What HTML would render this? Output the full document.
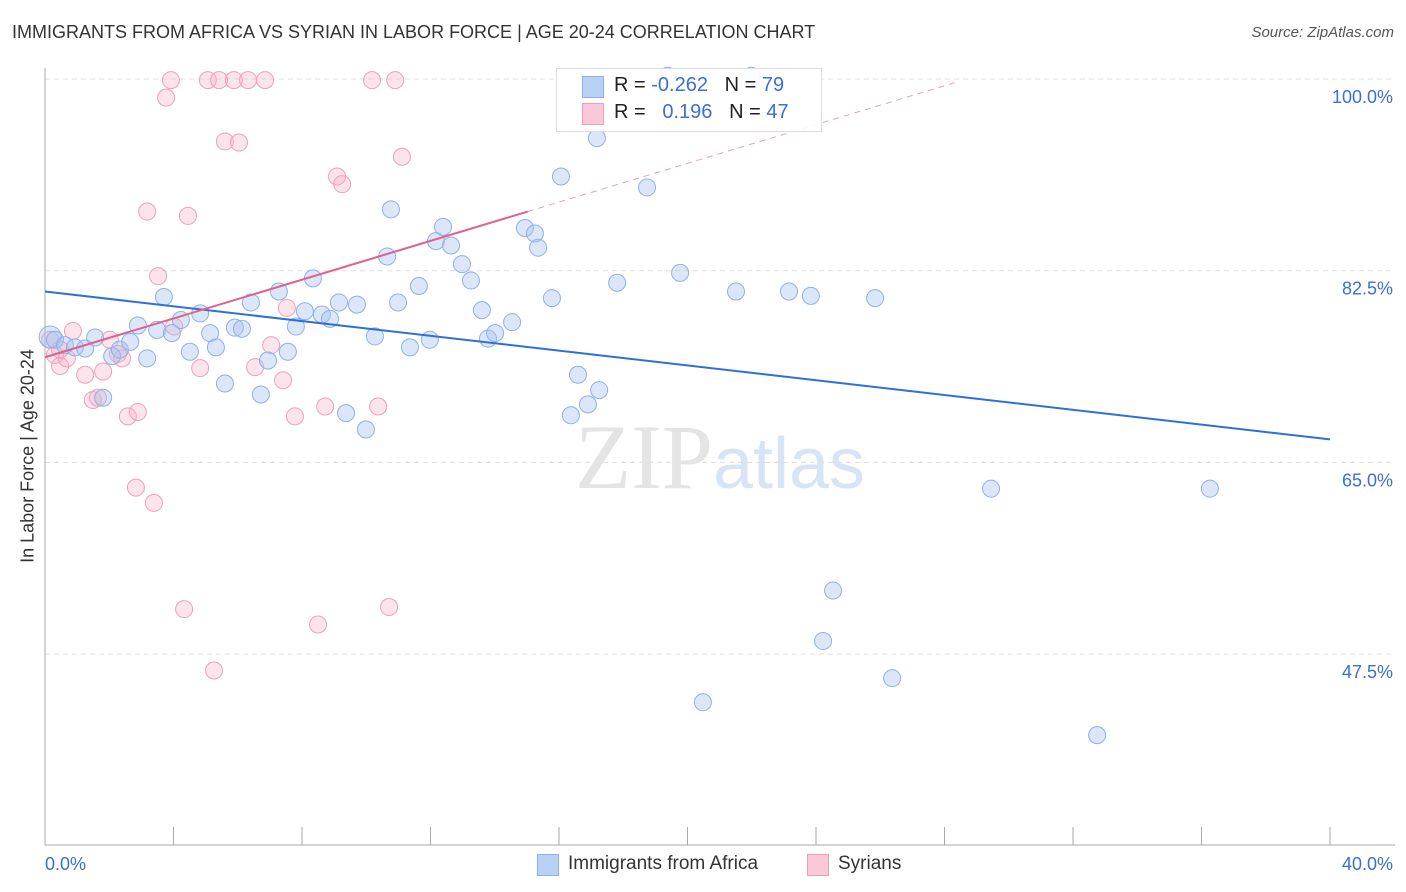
<!DOCTYPE html>
<html><head><meta charset="utf-8"><style>
body{margin:0;background:#fff;font-family:"Liberation Sans",sans-serif;}
#wrap{position:relative;width:1406px;height:892px;overflow:hidden;}
.t{position:absolute;white-space:nowrap;}
</style></head><body>
<div id="wrap">
<div class="t" style="left:12px;top:22px;font-size:18px;color:#333;">IMMIGRANTS FROM AFRICA VS SYRIAN IN LABOR FORCE | AGE 20-24 CORRELATION CHART</div>
<div class="t" style="right:12px;top:24px;font-size:15px;color:#555;font-style:italic;">Source: ZipAtlas.com</div>
<div class="t" style="left:28px;top:456px;font-size:18px;color:#333;transform:translate(-50%,-50%) rotate(-90deg);">In Labor Force | Age 20-24</div>
<svg id="svg" width="1406" height="892" style="position:absolute;left:0;top:0"></svg>
<div style="position:absolute;left:556px;top:68px;width:264px;height:62px;border:1px solid #ddd;background:rgba(255,255,255,0.9);"></div>
<div style="position:absolute;left:582px;top:76px;width:20px;height:20px;background:#b9d0f5;border:1px solid #8fb0e8;"></div>
<div style="position:absolute;left:582px;top:103px;width:20px;height:20px;background:#fbc8d8;border:1px solid #eaa0b8;"></div>
<div class="t" style="left:614px;top:74px;font-size:20px;color:#222;">R = <span style="color:#3a6fd8">-0.262</span>&nbsp;&nbsp;&nbsp;N = <span style="color:#3a6fd8">79</span></div>
<div class="t" style="left:614px;top:101px;font-size:20px;color:#222;">R = &nbsp;&nbsp;<span style="color:#3a6fd8">0.196</span>&nbsp;&nbsp;&nbsp;N = <span style="color:#3a6fd8">47</span></div>
<div style="position:absolute;left:537px;top:854px;width:20px;height:20px;background:#b9d0f5;border:1px solid #8fb0e8;"></div>
<div class="t" style="left:568px;top:853px;font-size:19px;color:#333;">Immigrants from Africa</div>
<div style="position:absolute;left:807px;top:854px;width:20px;height:20px;background:#fbc8d8;border:1px solid #eaa0b8;"></div>
<div class="t" style="left:838px;top:853px;font-size:19px;color:#333;">Syrians</div>
</div>
<script>
const yTicks=[100,82.5,65,47.5];
const yTickLabels=["100.0%","82.5%","65.0%","47.5%"];
const xEndLabels=["0.0%","40.0%"];
const blueX=[0.16,0.31,0.62,0.93,1.25,1.56,1.81,2.09,2.33,2.65,2.89,3.18,3.49,3.70,3.95,4.23,4.51,4.83,5.14,5.32,5.60,5.91,6.13,6.41,6.72,6.94,7.28,7.56,7.81,8.09,8.34,8.62,8.87,9.15,9.37,9.71,9.99,10.27,10.65,10.77,10.99,11.36,11.64,11.98,12.17,12.39,12.64,12.98,13.26,13.60,13.79,14.01,14.54,14.94,15.25,15.35,15.78,16.06,16.37,16.59,16.90,17.18,17.25,17.81,18.74,19.77,20.48,21.51,23.16,23.84,24.22,24.53,25.84,26.37,29.45,32.75,36.26,19.38,21.99];
const blueY=[76.45,76.2,75.7,75.5,75.4,76.4,70.9,74.7,75.3,76.0,77.5,74.5,77.1,80.1,76.8,78.0,75.1,78.6,76.8,75.5,72.2,77.3,77.2,79.6,71.2,74.3,80.6,75.1,77.4,78.8,81.8,78.5,78.1,79.6,69.5,79.4,68.0,76.5,83.8,88.1,79.6,75.5,81.1,76.2,85.2,86.5,84.8,83.1,81.6,78.9,76.3,76.8,77.8,86.4,85.9,84.6,80.0,91.1,69.3,73.0,70.3,94.6,71.6,81.4,90.1,82.3,43.1,80.6,80.6,80.2,48.7,53.3,80.0,45.3,62.6,40.1,62.6,100.3,100.3];
const pinkX=[0.16,0.31,0.47,0.68,0.87,1.25,1.49,1.65,1.81,2.02,2.27,2.40,2.58,2.89,2.83,3.18,3.39,3.52,3.77,3.92,4.02,4.33,4.45,4.83,5.07,5.26,5.42,5.60,5.88,6.04,6.32,6.54,6.85,7.04,7.41,7.53,7.78,8.50,8.72,9.09,9.25,10.18,10.37,10.71,10.90,11.11,0.47];
const pinkY=[76.2,74.8,73.8,74.5,77.0,73.0,70.7,70.9,73.3,76.2,74.9,74.5,69.2,69.6,62.7,87.9,61.3,82.0,98.3,99.9,77.4,51.6,87.5,73.6,99.9,46.0,99.9,94.3,99.9,94.2,99.9,73.7,99.9,75.7,72.5,79.1,69.2,50.2,70.1,91.1,90.4,99.9,70.1,51.8,99.9,92.9,75.3];
const blueTrend=[80.6,67.1];
const pinkTrend=[74.6,0.885];
const X=v=>45+v*32.125, Y=v=>79+(100-v)*10.954;
const svg=document.getElementById('svg');const NS='http://www.w3.org/2000/svg';
function mk(t,a){const e=document.createElementNS(NS,t);for(const k in a)e.setAttribute(k,a[k]);svg.appendChild(e);return e;}
yTicks.forEach((v,i)=>{
 const g=mk('line',{x1:45,x2:1395,y1:Y(v),y2:Y(v),stroke:'#ddd','stroke-dasharray':'5,4'});
 
 
 const t=mk('text',{x:1393,y:Y(v)+24,'text-anchor':'end','font-size':18,fill:'#3a6fd8','font-family':'Liberation Sans'});t.textContent=yTickLabels[i];
 
 
});
const ax=mk('line',{x1:45,x2:1395,y1:845,y2:845,stroke:'#aaa'});


const ay=mk('line',{x1:45,x2:45,y1:68,y2:845,stroke:'#aaa'});


for(let v=4;v<=40;v+=4){const tk=mk('line',{x1:X(v),x2:X(v),y1:827,y2:845,stroke:'#aaa'});
 
 }
[[0,45,'start'],[40,1393,'end']].forEach((a,i)=>{const t=mk('text',{x:a[1],y:870,'text-anchor':a[2],'font-size':18,fill:'#3a6fd8','font-family':'Liberation Sans'});t.textContent=xEndLabels[i];
 
 });
const wm=mk('text',{x:720,y:488,'text-anchor':'middle','font-size':92,fill:'#e4e4e4','font-family':'Liberation Serif'});wm.innerHTML='ZIP<tspan fill="#d7e4f5" font-family="Liberation Sans" font-size="72">atlas</tspan>';


pinkX.forEach((x,i)=>{const c=mk('circle',{cx:X(x),cy:Y(pinkY[i]),r:8.5,fill:'rgba(248,175,200,0.35)',stroke:'#eba2bb','stroke-width':1});
 
 });
blueX.forEach((x,i)=>{const c=mk('circle',{cx:X(x),cy:Y(blueY[i]),r:i==0?11:8.5,fill:'rgba(165,195,240,0.4)',stroke:'#8fb0e8','stroke-width':1});
 
 });
const bl=mk('line',{x1:X(0),y1:Y(blueTrend[0]),x2:X(40),y2:Y(blueTrend[1]),stroke:'#2e6fd8','stroke-width':2});


const pl=mk('line',{x1:X(0),y1:Y(pinkTrend[0]),x2:X(15.03),y2:Y(pinkTrend[0]+pinkTrend[1]*15.03),stroke:'#e0608e','stroke-width':2});


const pd=mk('line',{x1:X(15.03),y1:Y(pinkTrend[0]+pinkTrend[1]*15.03),x2:X(28.4),y2:Y(pinkTrend[0]+pinkTrend[1]*28.4),stroke:'#e8a0b8','stroke-width':1,'stroke-dasharray':'6,5'});


</script>
</body></html>
